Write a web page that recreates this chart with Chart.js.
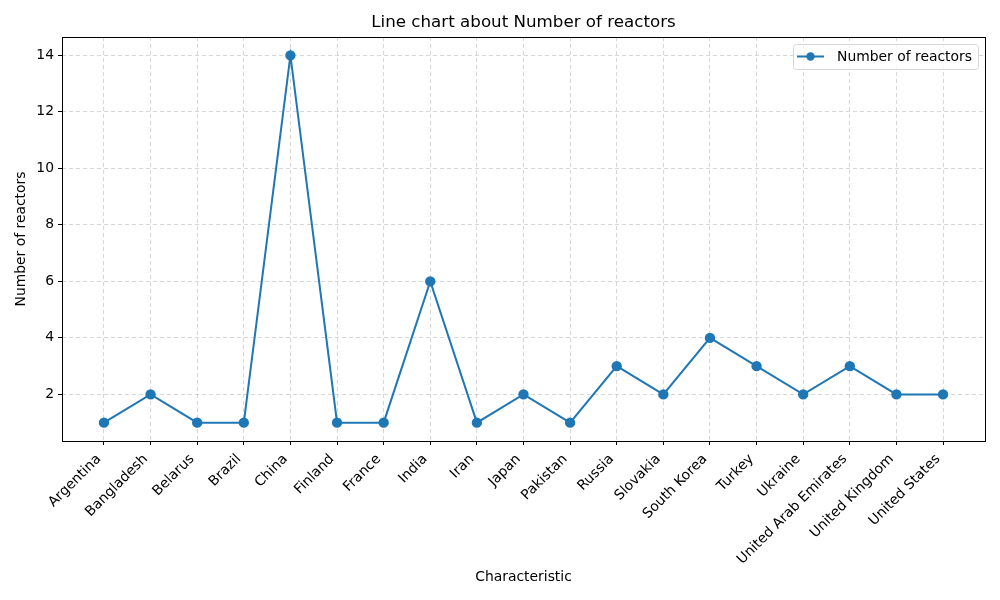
<!DOCTYPE html>
<html>
<head>
<meta charset="utf-8">
<script src="https://cdn.jsdelivr.net/npm/chart.js@4"></script>
<style>
  html, body { margin: 0; padding: 0; background: #fff; }
  #wrap { width: 1000px; height: 600px; position: relative; }
</style>
</head>
<body>
<div id="wrap"><canvas id="chart" width="1000" height="600"></canvas></div>
<script>
// dane
const countries = ['Argentina', 'Bangladesh', 'Belarus', 'Brazil', 'China', 'Finland', 'France',
  'India', 'Iran', 'Japan', 'Pakistan', 'Russia', 'Slovakia', 'South Korea', 'Turkey', 'Ukraine',
  'United Arab Emirates', 'United Kingdom', 'United States']
const reactors = [1, 2, 1, 1, 14, 1, 1, 6, 1, 2, 1, 3, 2, 4, 3, 2, 3, 2, 2]
const yTicks = [2, 4, 6, 8, 10, 12, 14]

const FONT = 'DejaVu Sans'
const BLUE = '#1f77b4'
const FS = 13.9

// ramka, tytul i legenda w stylu matplotlib
const decor = {
  id: 'decor',
  afterDraw (chart) {
    const { ctx, chartArea: a } = chart
    ctx.save()
    ctx.strokeStyle = '#000'
    ctx.lineWidth = 1
    ctx.strokeRect(a.left + 0.5, a.top + 0.5, a.right - a.left, a.bottom - a.top)

    ctx.fillStyle = '#000'
    ctx.font = `16.7px "${FONT}"`
    ctx.textAlign = 'center'
    ctx.textBaseline = 'middle'
    ctx.fillText('Line chart about Number of reactors', (a.left + a.right) / 2, 23)

    // legenda
    const lx = 793, ly = 44, lw = 185, lh = 25
    ctx.fillStyle = 'rgba(255,255,255,0.8)'
    ctx.strokeStyle = '#d6d6d6'
    ctx.beginPath()
    ctx.roundRect(lx + 0.5, ly + 0.5, lw, lh, 3)
    ctx.fill()
    ctx.stroke()
    ctx.strokeStyle = BLUE
    ctx.lineWidth = 2
    ctx.beginPath()
    ctx.moveTo(lx + 4, ly + 12.5)
    ctx.lineTo(lx + 31, ly + 12.5)
    ctx.stroke()
    ctx.fillStyle = BLUE
    ctx.beginPath()
    ctx.arc(lx + 17.5, ly + 12.5, 4.2, 0, Math.PI * 2)
    ctx.fill()
    ctx.fillStyle = '#000'
    ctx.font = `${FS}px "${FONT}"`
    ctx.textAlign = 'left'
    ctx.fillText('Number of reactors', lx + 44, ly + 13)
    ctx.restore()
  }
}

const gridOpts = {
  color: 'rgba(176,176,176,0.5)',
  tickColor: '#000',
  tickBorderDash: [],
  tickLength: 4
}

new Chart(document.getElementById('chart'), {
  type: 'line',
  data: {
    datasets: [{
      label: 'Number of reactors',
      data: reactors.map((v, i) => ({ x: i, y: v })),
      borderColor: BLUE,
      backgroundColor: BLUE,
      borderWidth: 2,
      pointRadius: 4.2,
      pointHoverRadius: 4.2,
      tension: 0
    }]
  },
  options: {
    responsive: false,
    animation: false,
    devicePixelRatio: 1,
    layout: { padding: { left: 9, right: 15, top: 37, bottom: 10 } },
    plugins: {
      legend: { display: false },
      title: { display: false },
      tooltip: { enabled: false }
    },
    scales: {
      x: {
        type: 'linear',
        min: -0.9,
        max: countries.length - 1 + 0.9,
        afterBuildTicks: s => { s.ticks = countries.map((_, i) => ({ value: i })) },
        afterFit: s => { s.height = 149 },
        ticks: {
          autoSkip: false,
          minRotation: 45,
          maxRotation: 45,
          padding: 6,
          labelOffset: -5,
          color: '#000',
          font: { family: FONT, size: FS },
          callback: v => countries[v]
        },
        grid: gridOpts,
        border: { display: false, dash: [4, 3] },
        title: {
          display: true,
          text: 'Characteristic',
          color: '#000',
          font: { family: FONT, size: FS },
          padding: { top: 4, bottom: 4 }
        }
      },
      y: {
        min: 0.35,
        max: 14.65,
        afterBuildTicks: s => { s.ticks = yTicks.map(v => ({ value: v })) },
        afterFit: s => { s.width = 53 },
        ticks: {
          padding: 4,
          color: '#000',
          font: { family: FONT, size: FS }
        },
        grid: gridOpts,
        border: { display: false, dash: [4, 3] },
        title: {
          display: true,
          text: 'Number of reactors',
          color: '#000',
          font: { family: FONT, size: FS },
          padding: { top: 4, bottom: 4 }
        }
      }
    }
  },
  plugins: [decor]
})
</script>
</body>
</html>
